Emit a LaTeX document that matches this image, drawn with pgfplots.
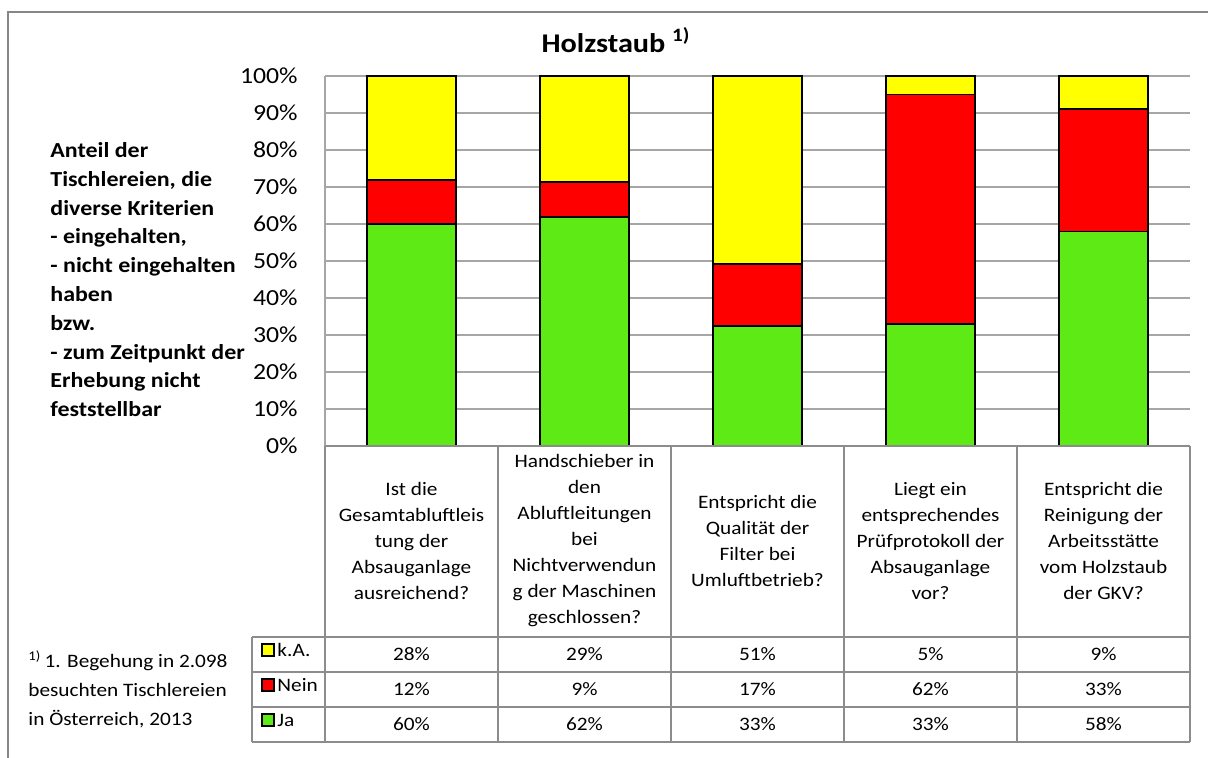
\documentclass[border=0pt]{standalone}
\usepackage{pgfplots}
\pgfplotsset{compat=1.18}
\usepackage{pgfplotstable}
\usepackage{fontspec}
\setmainfont{Carlito}[FakeStretch=1.12]

\definecolor{kaYellow}{RGB}{255,255,0}
\definecolor{neinRed}{RGB}{255,0,0}
\definecolor{jaGreen}{RGB}{94,234,20}
\definecolor{gridGray}{RGB}{166,166,166}
\definecolor{tabGray}{RGB}{140,140,140}
\definecolor{frameGray}{RGB}{134,134,134}

% shares per question (bar heights as drawn)
\pgfplotstableread{
x   ja    nein  ka
0   60    12    28
1   62    9.3   28.7
2   32.5  16.7  50.8
3   33    62    5
4   58    33    9
}\data

\newcommand\tabfont{\fontsize{9.5}{13}\selectfont}

\begin{document}
\begin{tikzpicture}
% pixel grid of the reference: origin top left, 1 px = 0.5pt
\begin{scope}[x=0.5pt,y=-0.5pt]
  \path[use as bounding box] (0,0) rectangle (1208,757);
  \draw[frameGray, line width=0.75pt] (8,775) -- (8,12) -- (1225,12);
\end{scope}

\begin{axis}[
    at={(162.5pt,-223pt)}, anchor=south west,
    scale only axis,
    width=432.5pt, height=185pt,
    xmin=-0.5, xmax=4.5,
    ymin=0, ymax=100,
    ybar stacked,
    bar width=44.5pt,
    xtick=\empty,
    ytick={0,10,20,30,40,50,60,70,80,90,100},
    yticklabels={0\%,10\%,20\%,30\%,40\%,50\%,60\%,70\%,80\%,90\%,100\%},
    yticklabel style={font=\fontsize{11.5}{12}\selectfont, anchor=east, inner sep=0pt, xshift=-13.5pt},
    major tick length=0pt,
    ymajorgrids,
    grid style={gridGray, line width=0.75pt},
    axis line style={draw=none},
    clip=false,
  ]
  \addplot[fill=jaGreen, draw=black, line width=0.9pt] table[x=x, y=ja] {\data};
  \addplot[fill=neinRed, draw=black, line width=0.9pt] table[x=x, y=nein] {\data};
  \addplot[fill=kaYellow, draw=black, line width=0.9pt] table[x=x, y=ka] {\data};
\end{axis}

\begin{scope}[x=0.5pt,y=-0.5pt]
  % left axis line
  \draw[gridGray, line width=0.75pt] (325,76) -- (325,446);

  % title
  \node[anchor=base, font=\fontsize{13.5}{16}\selectfont\bfseries] at (616,52)
    {Holzstaub \textsuperscript{1)}};

  % y axis description
  \node[anchor=north west, inner sep=0pt, align=left,
        font=\fontsize{10.7}{14.4}\selectfont\bfseries] at (50,142)
    {Anteil der\\Tischlereien, die\\diverse Kriterien\\- eingehalten,\\- nicht eingehalten\\haben\\bzw.\\- zum Zeitpunkt der\\Erhebung nicht\\feststellbar};

  % footnote
  \node[anchor=north west, inner sep=0pt, align=left,
        font=\fontsize{9.5}{14.5}\selectfont] at (28,650)
    {\textsuperscript{1)}\,1. Begehung in 2.098\\besuchten Tischlereien\\in Österreich, 2013};

  % data table grid
  \begin{scope}[tabGray, line width=0.75pt]
    \draw (325,446) -- (1190,446);
    \foreach \x in {325,498,671,844,1017,1190}
      \draw (\x,446) -- (\x,742);
    \foreach \y in {637,672,707,742}
      \draw (252,\y) -- (1190,\y);
    \draw (252,637) -- (252,742);
  \end{scope}

  % category texts
  \begin{scope}[every node/.style={align=center, inner sep=0pt, font=\tabfont}]
    \node at (411.5,541) {Ist die\\Gesamtabluftleis\\tung der\\Absauganlage\\ausreichend?};
    \node at (584.5,541) {Handschieber in\\den\\Abluftleitungen\\bei\\Nichtverwendun\\g der Maschinen\\geschlossen?};
    \node at (757.5,541) {Entspricht die\\Qualität der\\Filter bei\\Umluftbetrieb?};
    \node at (930.5,541) {Liegt ein\\entsprechendes\\Prüfprotokoll der\\Absauganlage\\vor?};
    \node at (1103.5,541) {Entspricht die\\Reinigung der\\Arbeitsstätte\\vom Holzstaub\\der GKV?};
  \end{scope}

  % legend keys
  \foreach \y/\c/\t in {650/kaYellow/k.A., 685/neinRed/Nein, 720/jaGreen/Ja} {
    \draw[fill=\c, line width=0.6pt] (262,\y-6) rectangle (274,\y+6);
    \node[anchor=west, inner sep=0pt, font=\tabfont] at (277,\y) {\t};
  }

  % table values
  \foreach \x/\a/\b/\c in {411.5/28/12/60, 584.5/29/9/62, 757.5/51/17/33, 930.5/5/62/33, 1103.5/9/33/58} {
    \node[font=\tabfont] at (\x,654.5) {\a\%};
    \node[font=\tabfont] at (\x,689.5) {\b\%};
    \node[font=\tabfont] at (\x,724.5) {\c\%};
  }
\end{scope}
\end{tikzpicture}
\end{document}
